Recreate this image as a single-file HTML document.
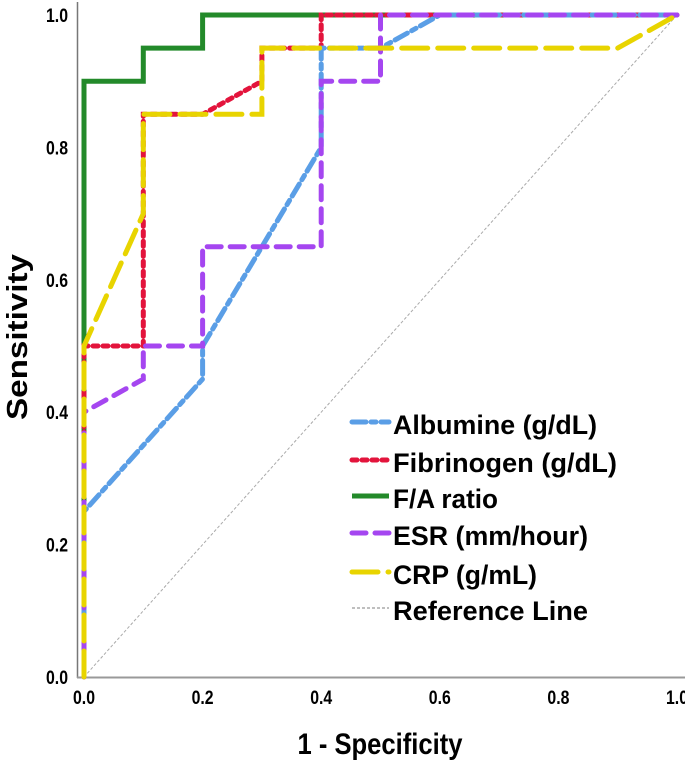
<!DOCTYPE html>
<html><head><meta charset="utf-8"><style>
body{margin:0;background:#fff;width:685px;height:761px;overflow:hidden}
svg{display:block;font-family:"Liberation Sans",Arial,sans-serif;font-weight:bold}
</style></head><body>
<svg id="chart" width="685" height="761"></svg>
<script>
const ticks=[0,0.2,0.4,0.6,0.8,1.0];
const tickLabels=["0.0","0.2","0.4","0.6","0.8","1.0"];
const seriesNames=["Albumine (g/dL)","Fibrinogen (g/dL)","F/A ratio","ESR (mm/hour)","CRP (g/mL)"];
const albuminX=[0,0,0.2,0.2,0.4,0.4,0.5,0.6,1];
const albuminY=[0,0.25,0.45,0.5,0.8,0.95,0.95,1,1];
const fibX=[0,0,0.1,0.1,0.2,0.3,0.3,0.4,0.4,1];
const fibY=[0,0.5,0.5,0.85,0.85,0.9,0.95,0.95,1,1];
const faX=[0,0,0.1,0.1,0.2,0.2,1];
const faY=[0,0.9,0.9,0.95,0.95,1,1];
const esrX=[0,0,0.1,0.1,0.2,0.2,0.4,0.4,0.5,0.5,1];
const esrY=[0,0.4,0.45,0.5,0.5,0.65,0.65,0.9,0.9,1,1];
const crpX=[0,0,0.1,0.1,0.3,0.3,0.9,1];
const crpY=[0,0.5,0.7,0.85,0.85,0.95,0.95,1];

const NS="http://www.w3.org/2000/svg";
const svg=document.getElementById('chart');
const sx=v=>84+v*593, sy=v=>677-v*662;
function mk(t,a,p){const e=document.createElementNS(NS,t);for(const k in a)e.setAttribute(k,a[k]);(p||svg).appendChild(e);return e;}

let ax=mk('line',{x1:77.5,y1:2,x2:77.5,y2:678,stroke:'#777','stroke-width':1.5});


let bx=mk('line',{x1:77,y1:677.5,x2:685,y2:677.5,stroke:'#999','stroke-width':2});



ticks.forEach((v,i)=>{
  let t=mk('text',{x:sx(v),y:704,'font-size':19,'text-anchor':'middle',textLength:22,lengthAdjust:'spacingAndGlyphs'});t.textContent=tickLabels[i];
  
  
  let u=mk('text',{x:68,y:sy(v)+7,'font-size':19,'text-anchor':'end',textLength:22,lengthAdjust:'spacingAndGlyphs'});u.textContent=tickLabels[i];
  
  
});
let xt=mk('text',{x:380,y:754,'font-size':30,'text-anchor':'middle',textLength:165,lengthAdjust:'spacingAndGlyphs'});xt.textContent='1 - Specificity';


let yt=mk('text',{x:27,y:337,'font-size':29,'text-anchor':'middle',textLength:166,lengthAdjust:'spacingAndGlyphs',transform:'rotate(-90 27 337)'});yt.textContent='Sensitivity';



let ref=mk('line',{x1:sx(0),y1:sy(0),x2:sx(1),y2:sy(1),stroke:'#aaa','stroke-width':1,'stroke-dasharray':'3,2'});



const styles=[
 {c:'#5a9ee6',d:'14,5,5,5',xs:albuminX,ys:albuminY,n:'albumine-curve'},
 {c:'#e3143c',d:'5,5',xs:fibX,ys:fibY,n:'fibrinogen-curve'},
 {c:'#238a2a',d:'',xs:faX,ys:faY,n:'fa-ratio-curve'},
 {c:'#a546f0',d:'14,9',xs:esrX,ys:esrY,n:'esr-curve'},
 {c:'#e8d400',d:'26,10',xs:crpX,ys:crpY,n:'crp-curve'}];
const order=[2,1,0,3,4];
order.forEach(i=>{const s=styles[i];
  const pts=s.xs.map((x,j)=>sx(x)+','+sy(s.ys[j])).join(' ');
  let p=mk('polyline',{points:pts,fill:'none',stroke:s.c,'stroke-width':5,'stroke-dasharray':s.d,'stroke-linecap':s.d?'round':'butt'});
  
  
});

const rowY=[422,460,496,533,572,608];
const labelW=[204,224,105,195,144,195];
styles.forEach((s,i)=>{
  let l=mk('line',{x1:352,y1:rowY[i],x2:389,y2:rowY[i],stroke:s.c,'stroke-width':5,'stroke-dasharray':s.d,'stroke-linecap':s.d?'round':'butt'});
  
  
  let t=mk('text',{x:393,y:rowY[i]+12,'font-size':27,textLength:labelW[i],lengthAdjust:'spacingAndGlyphs'});t.textContent=seriesNames[i];
  
  
});
let rl=mk('line',{x1:352,y1:rowY[5],x2:389,y2:rowY[5],stroke:'#aaa','stroke-width':1.5,'stroke-dasharray':'3,2'});


let rt=mk('text',{x:393,y:rowY[5]+12,'font-size':27,textLength:labelW[5],lengthAdjust:'spacingAndGlyphs'});rt.textContent='Reference Line';


</script>
</body></html>
